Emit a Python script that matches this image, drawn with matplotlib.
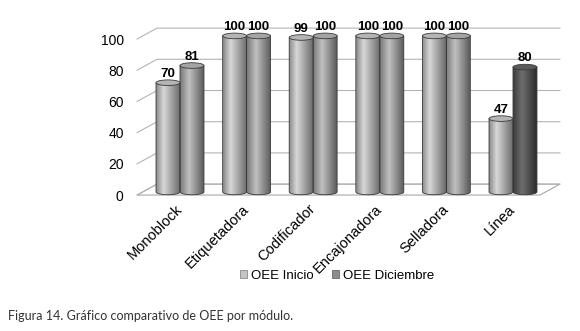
import matplotlib
matplotlib.use("Agg")
import matplotlib.pyplot as plt
import numpy as np
from matplotlib.patches import Ellipse, PathPatch, Polygon, Rectangle
from matplotlib.path import Path

plt.rcParams["font.family"] = ["Liberation Sans", "DejaVu Sans"]

modules = ["Monoblock", "Etiquetadora", "Codificador", "Encajonadora", "Selladora", "Línea"]
oee_inicio = [70, 100, 99, 100, 100, 47]
oee_diciembre = [81, 100, 100, 100, 100, 80]
series_names = ["OEE Inicio", "OEE Diciembre"]
y_ticks = [0, 20, 40, 60, 80, 100]

# pseudo 3d geometry (data units)
DX, DY = 0.30, 7.0       # depth of the back wall
BAR_SHIFT = 0.075        # bars sit a bit behind the front plane
BASE = 2.0
HALF_W = 0.18
ELL_H = 3.6


def gradient(c_left, c_hi, c_right, hi_pos=0.32, n=64):
    t = np.linspace(0, 1, n)
    out = np.zeros((1, n, 3))
    for k in range(3):
        out[0, :, k] = np.interp(t, [0, hi_pos, 1], [c_left[k], c_hi[k], c_right[k]])
    return out


def hexrgb(h):
    return np.array([int(h[i:i + 2], 16) / 255 for i in (1, 3, 5)])


GRAD_INICIO = gradient(hexrgb("#8a8a8a"), hexrgb("#d8d8d8"), hexrgb("#6c6c6c"))
GRAD_DIC = gradient(hexrgb("#7a7a7a"), hexrgb("#c0c0c0"), hexrgb("#5c5c5c"), 0.38)
GRAD_DARK = gradient(hexrgb("#3c3c3c"), hexrgb("#6e6e6e"), hexrgb("#2c2c2c"), 0.38)


def cylinder(ax, cx, value, grad, top_color):
    x0, x1 = cx - HALF_W, cx + HALF_W
    top = BASE + value
    t = np.linspace(np.pi, 2 * np.pi, 40)
    verts = [(x0, top), (x0, BASE)]
    verts += list(zip(cx + HALF_W * np.cos(t), BASE + ELL_H / 2 * np.sin(t)))
    verts += [(x1, top), (x0, top)]
    codes = [Path.MOVETO] + [Path.LINETO] * (len(verts) - 2) + [Path.CLOSEPOLY]
    body = PathPatch(Path(verts, codes), facecolor="none", edgecolor="#3a3a3a", lw=0.6, zorder=4)
    ax.add_patch(body)
    im = ax.imshow(grad, extent=(x0, x1, BASE - ELL_H, top), aspect="auto",
                   interpolation="bilinear", zorder=3)
    im.set_clip_path(body)
    ax.add_patch(Ellipse((cx, top), 2 * HALF_W, ELL_H, facecolor=top_color,
                         edgecolor="#3a3a3a", lw=0.6, zorder=5))
    return top + ELL_H / 2


fig = plt.figure(figsize=(5.8, 3.31), dpi=100)
ax = fig.add_axes([132 / 580, 1 - 200.5 / 331, 438 / 580, 185.5 / 331])

x = np.arange(len(modules))
x_left, x_right = -0.57, len(modules) - 0.52

# floor and back wall gridlines
ax.add_patch(Polygon([(x_left, 0), (x_right, 0), (x_right + DX, DY), (x_left + DX, DY)],
                     closed=True, facecolor="white", edgecolor="#a8a8a8", lw=0.8, zorder=1))
for t in y_ticks:
    ax.plot([x_left, x_left + DX, x_right + DX], [t, t + DY, t + DY],
            color="#b4b4b4", lw=0.8, zorder=2)

for i in x:
    cx = i + BAR_SHIFT
    g2 = GRAD_DARK if modules[i] == "Línea" else GRAD_DIC
    c2 = "#5a5a5a" if modules[i] == "Línea" else "#a4a4a4"
    for dx, val, grad, tc in [(-HALF_W, oee_inicio[i], GRAD_INICIO, "#b4b4b4"),
                              (HALF_W, oee_diciembre[i], g2, c2)]:
        ytop = cylinder(ax, cx + dx, val, grad, tc)
        ax.annotate(str(val), (cx + dx, ytop), xytext=(0, 0), textcoords="offset points",
                    ha="center", va="bottom", fontsize=9.5, fontweight="bold", zorder=6)

ax.set_xlim(-0.6456, 5.931)
ax.set_ylim(-3.5, 115.4)
ax.set_yticks(y_ticks)
ax.set_yticklabels([str(t) for t in y_ticks], fontsize=10)
ax.set_xticks(x)
ax.set_xticklabels(modules, rotation=45, ha="right", rotation_mode="anchor", fontsize=10.5)
ax.tick_params(axis="y", length=0, pad=6)
ax.tick_params(axis="x", length=0, pad=1)
for s in ax.spines.values():
    s.set_visible(False)

handles = [Rectangle((0, 0), 1, 1, facecolor="#c4c4c4", edgecolor="#777777", lw=0.5),
           Rectangle((0, 0), 1, 1, facecolor="#8c8c8c", edgecolor="#555555", lw=0.5)]
fig.legend(handles, series_names, loc="center", bbox_to_anchor=(0.581, 1 - 276 / 331),
           ncol=2, frameon=False, fontsize=9.5, handlelength=0.55, handleheight=0.55,
           handletextpad=0.3, columnspacing=1.4)

fig.text(8 / 580, 1 - 316 / 331, "Figura 14. Gráfico comparativo de OEE por módulo.",
         fontsize=9, color="#333333", family="Lato", va="center")

fig.savefig("out.png", dpi=100)
